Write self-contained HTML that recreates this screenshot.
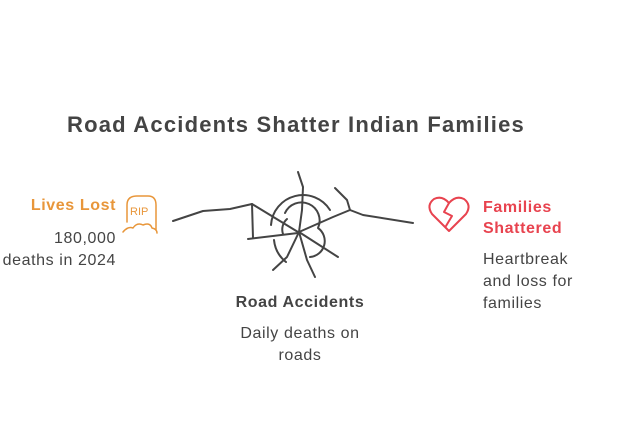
<!DOCTYPE html>
<html><head><style>
body{margin:0;width:640px;height:425px;background:#fff;overflow:hidden;position:relative;font-family:"Liberation Sans",sans-serif}
.t{position:absolute;white-space:nowrap;letter-spacing:0.6px}
</style></head><body>
<div class="t" style="left:0;width:592px;top:112px;text-align:center;font-size:22px;font-weight:bold;color:#444;letter-spacing:1.2px">Road Accidents Shatter Indian Families</div>
<div class="t" style="right:524px;top:197px;font-size:16px;font-weight:bold;color:#e8963a">Lives Lost</div>
<div class="t" style="right:524px;top:228px;font-size:16px;color:#444;text-align:right;line-height:22px">180,000<br>deaths in 2024</div>
<div class="t" style="left:483px;top:197px;font-size:16px;font-weight:bold;color:#e8434f;line-height:21px">Families<br>Shattered</div>
<div class="t" style="left:483px;top:249px;font-size:16px;color:#444;line-height:22px">Heartbreak<br>and loss for<br>families</div>
<div class="t" style="left:0;width:600px;top:294px;text-align:center;font-size:16px;font-weight:bold;color:#444">Road Accidents</div>
<div class="t" style="left:0;width:600px;top:323px;text-align:center;font-size:16px;color:#444;line-height:22px">Daily deaths on<br>roads</div>
<svg width="640" height="425" style="position:absolute;left:0;top:0" fill="none" stroke-linecap="round" stroke-linejoin="round">
<g stroke="#444" stroke-width="2">
<polyline points="173,221 203,211 230,209 252,204 298,232"/>
<polyline points="252,204 253,238"/>
<polyline points="248,239 298,233"/>
<polyline points="298,172 303,187 302,210 299,232"/>
<polyline points="299,232 333,217 350,210 363,215 413,223"/>
<polyline points="335,188 347,200 350,210"/>
<polyline points="299,232 287,257 273,270"/>
<polyline points="299,232 307,260 315,277"/>
<polyline points="299,232 338,257"/>
<path d="M271,225 A32,32 0 0 1 330,210"/>
<path d="M286,262 A32,32 0 0 1 274,240"/>
<path d="M285,213 A16,16 0 0 1 318,228 A16,16 0 0 1 310,257"/>
<path d="M283,234 A14,14 0 0 1 287,219"/>
</g>
<g stroke="#e8963a" stroke-width="1.5">
<path d="M127,222 L127,205 Q127,196 137,196 L148,196 Q156,196 156,205 L156,230"/>
<path d="M123,232 Q128,226 133,228 Q137,222 143,225 Q150,222 152,228 Q157,229 157,233"/>
<text x="130" y="215" font-size="11" fill="#e8963a" stroke="none" font-family="Liberation Sans">RIP</text>
</g>
<path d="M449,231 L432,214 Q426,205 434,199 Q442,195 449,203 Q456,195 464,199 Q472,205 466,214 Z" stroke="#e8434f" stroke-width="2"/>
<polyline points="449,203 444,212 452,216 446,226" stroke="#e8434f" stroke-width="2"/>
</svg>
</body></html>
